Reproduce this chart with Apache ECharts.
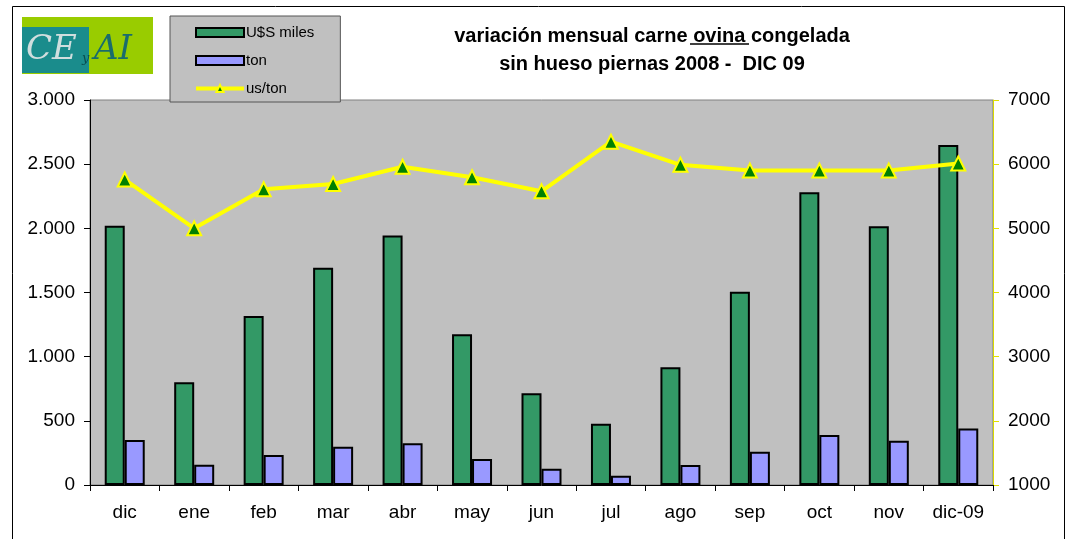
<!DOCTYPE html>
<html lang="es">
  <head>
    <meta charset="UTF-8" />
    <title>variación mensual carne ovina congelada</title>
    <script src="https://cdn.jsdelivr.net/npm/echarts@6/dist/echarts.min.js"></script>
    <style>
      body { margin: 0; background: #fff; }
    </style>
  </head>
  <body>
    <div id="main" style="width: 1073px; height: 539px"></div>
    <script type="text/javascript">
      const months = ["dic", "ene", "feb", "mar", "abr", "may", "jun", "jul", "ago", "sep", "oct", "nov", "dic-09"];
      const usdMiles = [2020, 800, 1317, 1693, 1945, 1174, 714, 478, 917, 1506, 2281, 2016, 2649];
      const tons = [351, 158, 234, 299, 325, 203, 127, 73, 156, 260, 390, 345, 441];
      const usPerTon = [5760, 5000, 5608, 5690, 5960, 5795, 5577, 6350, 5990, 5900, 5900, 5900, 6010];

      const font = "Liberation Sans, Arial, sans-serif";

      let myChart = echarts.init(document.getElementById("main"));

      let options = {
        animation: false,
        backgroundColor: "#fff",
        textStyle: { fontFamily: font },
        title: {
          text: "variación mensual carne {u|ovina }congelada\nsin hueso piernas 2008 -  DIC 09",
          left: 647,
          top: 17,
          textAlign: "center",
          textStyle: {
            fontFamily: font,
            fontSize: 20,
            fontWeight: "bold",
            color: "#000",
            lineHeight: 28,
            rich: {
              u: { fontFamily: font, fontSize: 20, fontWeight: "bold", color: "#000" },
            },
          },
        },
        legend: {
          orient: "vertical",
          left: 170,
          top: 16,
          padding: [9, 26, 6, 24],
          itemGap: 13,
          itemWidth: 48,
          itemHeight: 9,
          backgroundColor: "#c0c0c0",
          borderColor: "#555",
          borderWidth: 1,
          textStyle: { fontFamily: font, fontSize: 15, color: "#000", padding: [0, 0, 0, -3] },
          data: [
            { name: "U$S miles", icon: "rect" },
            { name: "ton", icon: "rect" },
            { name: "us/ton", lineStyle: { width: 4, color: "#ffff00" } },
          ],
        },
        grid: {
          left: 90,
          right: 80,
          top: 100,
          bottom: 54,
          show: true,
          backgroundColor: "#c0c0c0",
          borderColor: "#808080",
          borderWidth: 1,
        },
        xAxis: {
          type: "category",
          data: months,
          axisLine: { lineStyle: { color: "#000", width: 1 } },
          axisTick: { show: true, length: 6, lineStyle: { color: "#000" } },
          axisLabel: { fontFamily: font, fontSize: 19, color: "#000", margin: 18 },
        },
        yAxis: [
          {
            type: "value",
            min: 0,
            max: 3000,
            interval: 500,
            splitLine: { show: false },
            axisLine: { show: true, lineStyle: { color: "#000" } },
            axisTick: { show: true, length: 6, lineStyle: { color: "#000" } },
            axisLabel: {
              fontFamily: font,
              fontSize: 19,
              color: "#000",
              margin: 15,
              formatter: (v) => String(v).replace(/\B(?=(\d{3})+(?!\d))/g, "."),
            },
          },
          {
            type: "value",
            min: 1000,
            max: 7000,
            interval: 1000,
            position: "right",
            splitLine: { show: false },
            axisLine: { show: true, lineStyle: { color: "#d8d800" } },
            axisTick: { show: true, length: 6, lineStyle: { color: "#e0e000" } },
            axisLabel: {
              fontFamily: font,
              fontSize: 19,
              color: "#000",
              margin: 15,
              formatter: (v) => String(v),
            },
          },
        ],
        series: [
          {
            name: "U$S miles",
            type: "bar",
            data: usdMiles,
            barWidth: 20,
            barGap: "0%",
            itemStyle: { color: "#339966", borderColor: "#000", borderWidth: 2 },
          },
          {
            name: "ton",
            type: "bar",
            data: tons,
            barWidth: 20,
            barGap: "0%",
            itemStyle: { color: "#9999ff", borderColor: "#000", borderWidth: 2 },
          },
          {
            name: "us/ton",
            type: "line",
            yAxisIndex: 1,
            data: usPerTon,
            symbol: "triangle",
            symbolSize: 14,
            lineStyle: { color: "#ffff00", width: 4 },
            itemStyle: { color: "#008000", borderColor: "#ffff00", borderWidth: 2 },
          },
        ],
        graphic: [
          // outer frame
          {
            type: "rect",
            shape: { x: 12.5, y: 6.5, width: 1052, height: 540 },
            style: { fill: null, stroke: "#000", lineWidth: 1 },
            silent: true,
          },
          // logo
          { type: "rect", shape: { x: 22, y: 17, width: 131, height: 57 }, style: { fill: "#99cc00" } },
          { type: "rect", shape: { x: 22, y: 27, width: 67, height: 46 }, style: { fill: "#1a8c8c" } },
          {
            type: "text",
            x: 26,
            y: 50,
            style: {
              text: "CE",
              font: "italic 34px 'DejaVu Serif', serif",
              fill: "#d0dede",
              verticalAlign: "middle",
            },
          },
          {
            type: "text",
            x: 82,
            y: 59,
            style: {
              text: "y",
              font: "italic 13px 'DejaVu Serif', serif",
              fill: "#0a4e4e",
              verticalAlign: "middle",
            },
          },
          {
            type: "text",
            x: 94,
            y: 50,
            style: {
              text: "AI",
              font: "italic 34px 'DejaVu Serif', serif",
              fill: "#1a6c6c",
              verticalAlign: "middle",
            },
          },
          // underline for "ovina"
          {
            type: "line",
            shape: { x1: 690, y1: 44, x2: 749, y2: 44 },
            style: { stroke: "#000", lineWidth: 1.5 },
          },
        ],
      };
      myChart.setOption(options);
    </script>
  </body>
</html>
